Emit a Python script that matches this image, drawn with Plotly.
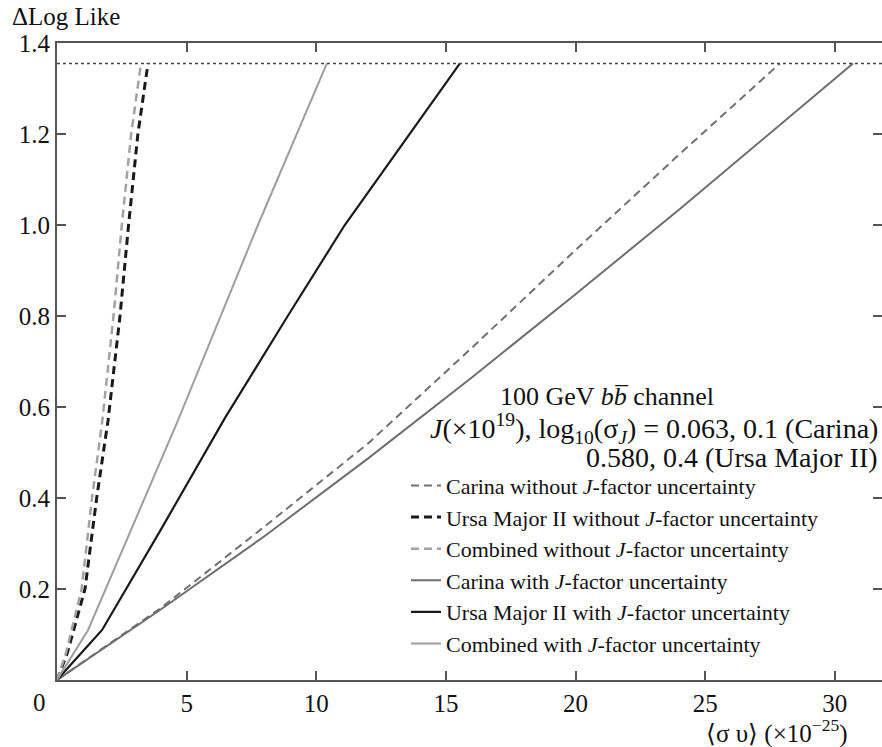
import plotly.graph_objects as go

# ---- data ----
threshold = 1.355

carina_wo_x = [0, 4, 8, 12, 16, 20, 24, 27.88]
carina_wo_y = [0, 0.158, 0.337, 0.52, 0.73, 0.945, 1.155, 1.355]

uma_wo_x = [0, 0.4, 1.08, 1.53, 1.97, 2.43, 2.76, 3.12, 3.51]
uma_wo_y = [0, 0.06, 0.2, 0.4, 0.571, 0.8, 1.0, 1.2, 1.355]

comb_wo_x = [0, 0.35, 0.95, 1.35, 1.75, 2.18, 2.5, 2.86, 3.24]
comb_wo_y = [0, 0.06, 0.2, 0.4, 0.571, 0.8, 1.0, 1.2, 1.355]

carina_w_x = [0, 4, 8, 12, 16, 20, 24, 28, 30.7]
carina_w_y = [0, 0.155, 0.316, 0.487, 0.665, 0.848, 1.034, 1.225, 1.355]

uma_w_x = [0, 1.74, 4.0, 6.48, 8.9, 11.1, 15.54]
uma_w_y = [0, 0.11, 0.33, 0.576, 0.80, 1.0, 1.355]

comb_w_x = [0, 1.2, 4.67, 7.75, 10.41]
comb_w_y = [0, 0.11, 0.571, 1.0, 1.355]

names = [
    "Carina without <i>J</i>-factor uncertainty",
    "Ursa Major II without <i>J</i>-factor uncertainty",
    "Combined without <i>J</i>-factor uncertainty",
    "Carina with <i>J</i>-factor uncertainty",
    "Ursa Major II with <i>J</i>-factor uncertainty",
    "Combined with <i>J</i>-factor uncertainty",
]

x_ticks = [5, 10, 15, 20, 25, 30]
y_ticks = [0.2, 0.4, 0.6, 0.8, 1.0, 1.2, 1.4]
y_tick_text = ["0.2", "0.4", "0.6", "0.8", "1.0", "1.2", "1.4"]
x_max = 31.82
y_max = 1.4

FONT = "Liberation Serif, Times New Roman, serif"
AX = "#555555"

fig = go.Figure()
series = [
    (carina_wo_x, carina_wo_y, "#707070", 2, "8px,5px"),
    (uma_wo_x, uma_wo_y, "#1a1a1a", 3, "8px,5px"),
    (comb_wo_x, comb_wo_y, "#a2a2a2", 2.5, "8px,5px"),
    (carina_w_x, carina_w_y, "#6e6e6e", 2, "solid"),
    (uma_w_x, uma_w_y, "#1a1a1a", 2.2, "solid"),
    (comb_w_x, comb_w_y, "#9e9e9e", 2, "solid"),
]
for (xs, ys, col, w, dash), nm in zip(series, names):
    fig.add_trace(go.Scatter(x=xs, y=ys, mode="lines", name=nm,
                             line=dict(color=col, width=w, dash=dash)))

# invisible trace to carry the right-hand tick marks
fig.add_trace(go.Scatter(x=[0], y=[0], yaxis="y2", mode="markers",
                         marker=dict(opacity=0), showlegend=False, hoverinfo="skip"))

fig.add_shape(type="line", xref="paper", yref="y", x0=0, x1=1, y0=threshold, y1=threshold,
              line=dict(color="#444444", width=1.5, dash="dot"))

fig.update_layout(
    width=882, height=747,
    margin=dict(l=57, r=0, t=43, b=67),
    paper_bgcolor="white", plot_bgcolor="white",
    font=dict(family=FONT, color="#111111", size=25),
    showlegend=True,
    legend=dict(x=0.423, y=0.338, xanchor="left", yanchor="top",
                bgcolor="rgba(0,0,0,0)", borderwidth=0,
                font=dict(family=FONT, size=22, color="#111111"),
                tracegroupgap=0),
    xaxis=dict(range=[0, x_max], tickvals=x_ticks, ticks="inside", ticklen=9,
               tickwidth=1.5, tickcolor=AX, showline=True, linecolor=AX, linewidth=2,
               mirror="ticks", showgrid=False, zeroline=False,
               tickfont=dict(family=FONT, size=25, color="#111111")),
    yaxis=dict(range=[0, y_max], tickvals=y_ticks, ticktext=y_tick_text, ticks="inside",
               ticklen=9, tickwidth=1.5, tickcolor=AX, showline=True, linecolor=AX,
               linewidth=2, showgrid=False, zeroline=False,
               tickfont=dict(family=FONT, size=25, color="#111111")),
    yaxis2=dict(overlaying="y", side="right", matches="y", range=[0, y_max],
                tickvals=y_ticks, ticks="inside", ticklen=9, tickwidth=1.5, tickcolor=AX,
                showticklabels=False, showline=False, showgrid=False, zeroline=False),
)

ann = dict(xref="paper", yref="paper", showarrow=False, font=dict(family=FONT, size=25, color="#111111"))
def px_x(p):
    return (p - 57) / 825.0
def px_y(p):
    return (680 - p) / 637.0

fig.add_annotation(text="ΔLog Like", x=px_x(10), y=px_y(17), xanchor="left", yanchor="middle", **ann)
fig.add_annotation(text="0", x=px_x(39), y=px_y(703), xanchor="center", yanchor="middle", **ann)
fig.add_annotation(text="⟨σ υ⟩ (×10<sup>−25</sup>)", x=px_x(849), y=px_y(731),
                   xanchor="right", yanchor="middle", **ann)

ann1 = dict(ann)
ann1["font"] = dict(family=FONT, size=26, color="#111111")
ann2 = dict(ann)
ann2["font"] = dict(family=FONT, size=28, color="#111111")
fig.add_annotation(text="100 GeV <i>bb\u0305</i> channel", x=px_x(607), y=px_y(396),
                   xanchor="center", yanchor="middle", **ann1)
fig.add_annotation(text="<i>J</i>(×10<sup>19</sup>), log<sub>10</sub>(σ<sub><i>J</i></sub>) = 0.063, 0.1 (Carina)",
                   x=px_x(880), y=px_y(428), xanchor="right", yanchor="middle", **ann2)
fig.add_annotation(text="0.580, 0.4 (Ursa Major II)", x=px_x(880), y=px_y(458),
                   xanchor="right", yanchor="middle", **ann2)

fig.write_html("out.html")
